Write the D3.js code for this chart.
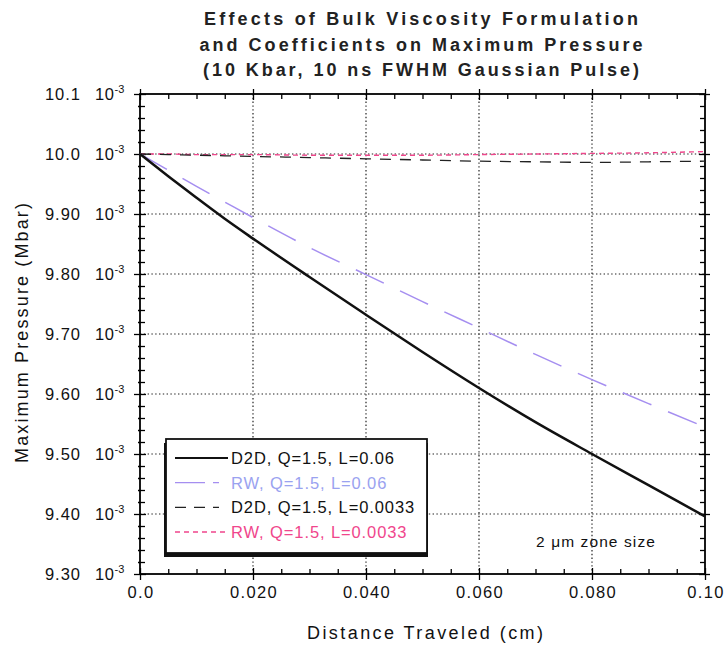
<!DOCTYPE html>
<html>
<head>
<meta charset="utf-8">
<script src="https://cdn.jsdelivr.net/npm/d3@7"></script>
<style>
  html, body { margin: 0; padding: 0; background: #fff; }
  svg { display: block; font-family: "Liberation Sans", Arial, Helvetica, sans-serif; }
</style>
</head>
<body>
<svg id="chart" width="727" height="647"></svg>
<script>
// Distance traveled (cm) at which the maximum pressure was sampled
const distance = [0, 0.005, 0.01, 0.015, 0.02, 0.03, 0.04, 0.05, 0.06, 0.07, 0.08, 0.09, 0.10];

// Maximum pressure in units of 10^-3 Mbar for each run
const d2dL006   = [10.000, 9.963, 9.927, 9.892, 9.859, 9.795, 9.732, 9.670, 9.610, 9.553, 9.500, 9.448, 9.396];
const rwL006    = [10.000, 9.973, 9.946, 9.920, 9.894, 9.844, 9.799, 9.754, 9.710, 9.666, 9.624, 9.584, 9.545];
const d2dL0033  = [10.000, 9.999, 9.998, 9.997, 9.996, 9.994, 9.992, 9.990, 9.988, 9.987, 9.986, 9.987, 9.988];
const rwL0033   = [10.000, 10.000, 9.999, 9.999, 9.999, 9.998, 9.998, 9.998, 9.999, 10.000, 10.001, 10.002, 10.004];

const seriesNames = ["D2D, Q=1.5, L=0.06", "RW, Q=1.5, L=0.06", "D2D, Q=1.5, L=0.0033", "RW, Q=1.5, L=0.0033"];

const xTickValues = [0, 0.02, 0.04, 0.06, 0.08, 0.10];
const xTickLabels = ["0.0", "0.020", "0.040", "0.060", "0.080", "0.10"];
const yTickValues = [10.1, 10.0, 9.9, 9.8, 9.7, 9.6, 9.5, 9.4, 9.3];
const yTickLabels = ["10.1", "10.0", "9.90", "9.80", "9.70", "9.60", "9.50", "9.40", "9.30"];

const titleLines = [
  "Effects of Bulk Viscosity Formulation",
  "and Coefficients on Maximum Pressure",
  "(10 Kbar, 10 ns FWHM Gaussian Pulse)"
];

const svg = d3.select("#chart");
const L = 140, R = 705, T = 94, B = 574;

const x = d3.scaleLinear().domain([0, 0.10]).range([L, R]);
const y = d3.scaleLinear().domain([9.3, 10.1]).range([B, T]);

const xMinor = d3.range(0, 0.1001, 0.005).filter(v => !xTickValues.some(t => Math.abs(t - v) < 1e-9));
const yMinor = d3.range(9.3, 10.1001, 0.02).filter(v => !yTickValues.some(t => Math.abs(t - v) < 1e-9));

// dotted grid at major ticks
const grid = svg.append("g").attr("stroke", "#222").attr("stroke-width", 1.2)
  .attr("stroke-dasharray", "1.4,2.4");
xTickValues.slice(1, -1).forEach(v => {
  grid.append("line").attr("x1", x(v)).attr("x2", x(v)).attr("y1", T).attr("y2", B);
});
yTickValues.slice(1, -1).forEach(v => {
  grid.append("line").attr("x1", L).attr("x2", R).attr("y1", y(v)).attr("y2", y(v));
});

// axes with ticks on all four sides
function styleAxis(g) {
  g.select(".domain").remove();
  g.selectAll(".tick line").attr("stroke", "#000").attr("stroke-width", 1.3);
  g.selectAll(".tick text").remove();
}
const fmtNone = () => "";
// bottom
svg.append("g").attr("transform", `translate(0,${B})`)
  .call(d3.axisBottom(x).tickValues(xTickValues).tickSize(6).tickFormat(fmtNone)).call(styleAxis);
svg.append("g").attr("transform", `translate(0,${B})`)
  .call(d3.axisBottom(x).tickValues(xTickValues).tickSize(-6).tickFormat(fmtNone)).call(styleAxis);
svg.append("g").attr("transform", `translate(0,${B})`)
  .call(d3.axisBottom(x).tickValues(xMinor).tickSize(-5).tickFormat(fmtNone)).call(styleAxis);
// top
svg.append("g").attr("transform", `translate(0,${T})`)
  .call(d3.axisTop(x).tickValues(xTickValues).tickSize(5).tickFormat(fmtNone)).call(styleAxis);
svg.append("g").attr("transform", `translate(0,${T})`)
  .call(d3.axisTop(x).tickValues(xTickValues).tickSize(-6).tickFormat(fmtNone)).call(styleAxis);
svg.append("g").attr("transform", `translate(0,${T})`)
  .call(d3.axisTop(x).tickValues(xMinor).tickSize(-5).tickFormat(fmtNone)).call(styleAxis);
// left
svg.append("g").attr("transform", `translate(${L},0)`)
  .call(d3.axisLeft(y).tickValues(yTickValues).tickSize(6).tickFormat(fmtNone)).call(styleAxis);
svg.append("g").attr("transform", `translate(${L},0)`)
  .call(d3.axisLeft(y).tickValues(yTickValues).tickSize(-6).tickFormat(fmtNone)).call(styleAxis);
svg.append("g").attr("transform", `translate(${L},0)`)
  .call(d3.axisLeft(y).tickValues(yMinor).tickSize(-5).tickFormat(fmtNone)).call(styleAxis);
svg.append("g").attr("transform", `translate(${L},0)`)
  .call(d3.axisLeft(y).tickValues(yMinor).tickSize(2).tickFormat(fmtNone)).call(styleAxis);
// right
svg.append("g").attr("transform", `translate(${R},0)`)
  .call(d3.axisRight(y).tickValues(yTickValues).tickSize(5).tickFormat(fmtNone)).call(styleAxis);
svg.append("g").attr("transform", `translate(${R},0)`)
  .call(d3.axisRight(y).tickValues(yTickValues).tickSize(-6).tickFormat(fmtNone)).call(styleAxis);
svg.append("g").attr("transform", `translate(${R},0)`)
  .call(d3.axisRight(y).tickValues(yMinor).tickSize(-5).tickFormat(fmtNone)).call(styleAxis);

// frame
svg.append("rect").attr("x", L).attr("y", T).attr("width", R - L).attr("height", B - T)
  .attr("fill", "none").attr("stroke", "#000").attr("stroke-width", 1.8);

// tick labels
const xLab = svg.append("g").attr("font-size", 16.5).attr("letter-spacing", 1.3).attr("fill", "#111");
xTickValues.forEach((v, i) => {
  xLab.append("text").attr("x", x(v) + 1).attr("y", B + 24).attr("text-anchor", "middle").text(xTickLabels[i]);
});
const yLab = svg.append("g").attr("font-size", 16.5).attr("fill", "#111");
yTickValues.forEach((v, i) => {
  yLab.append("text").attr("x", 81).attr("y", y(v) + 6).attr("text-anchor", "end")
    .attr("letter-spacing", 1.0).text(yTickLabels[i]);
  const t = yLab.append("text").attr("x", 95).attr("y", y(v) + 6);
  t.append("tspan").attr("letter-spacing", 0.6).text("10");
  t.append("tspan").attr("font-size", 11).attr("dy", -7).text("-3");
});

// series lines
const line = d3.line().x((d, i) => x(distance[i])).y(d => y(d)).curve(d3.curveMonotoneX);
const styles = [
  { data: d2dL006,  color: "#111",    width: 2.5, dash: null,   text: "#111" },
  { data: rwL006,   color: "#a58ef0", width: 1.5, dash: "31,18", text: "#9aa2f0" },
  { data: d2dL0033, color: "#222",    width: 1.3, dash: "11,9", text: "#111" },
  { data: rwL0033,  color: "#f0468c", width: 1.4, dash: "5,4",  text: "#f0468c" }
];
const plot = svg.append("g");
[3, 2, 1, 0].forEach(k => {
  const s = styles[k];
  plot.append("path").attr("d", line(s.data)).attr("fill", "none")
    .attr("stroke", s.color).attr("stroke-width", s.width)
    .attr("stroke-dasharray", s.dash);
});

// legend box with drop shadow
const lg = { x0: 166, y0: 439, x1: 427, y1: 553 };
svg.append("rect").attr("x", lg.x0 - 2).attr("y", lg.y0 + 4).attr("width", lg.x1 - lg.x0 + 3)
  .attr("height", lg.y1 - lg.y0).attr("fill", "#111");
svg.append("rect").attr("x", lg.x0).attr("y", lg.y0).attr("width", lg.x1 - lg.x0)
  .attr("height", lg.y1 - lg.y0).attr("fill", "#fff").attr("stroke", "#111").attr("stroke-width", 1.8);
const legendY = d3.scalePoint().domain(seriesNames).range([458, 532]);
seriesNames.forEach((name, k) => {
  const s = styles[k];
  const yy = legendY(name);
  svg.append("line").attr("x1", 175).attr("x2", 228).attr("y1", yy).attr("y2", yy)
    .attr("stroke", s.color).attr("stroke-width", k === 0 ? 2.2 : 1.4)
    .attr("stroke-dasharray", k === 1 ? "30,8,6,20" : k === 2 ? "11,8,11,8,6,20" : s.dash);
  svg.append("text").attr("x", 231).attr("y", yy + 6).attr("font-size", 16.5)
    .attr("letter-spacing", 0.9).attr("fill", s.text).text(name);
});

// annotation
svg.append("text").attr("x", 536).attr("y", 547).attr("font-size", 15.5).attr("letter-spacing", 1.1)
  .attr("fill", "#111").text("2 μm zone size");

// title
titleLines.forEach((t, i) => {
  svg.append("text").attr("x", 421).attr("y", [25, 51, 76][i]).attr("text-anchor", "middle")
    .attr("font-size", 18).attr("font-weight", "bold").attr("fill", "#222")
    .attr("textLength", [434, 443, 436][i]).attr("lengthAdjust", "spacing").text(t);
});

// axis titles
svg.append("text").attr("x", 425).attr("y", 639).attr("text-anchor", "middle")
  .attr("font-size", 18).attr("fill", "#111").attr("textLength", 236).attr("lengthAdjust", "spacing")
  .text("Distance Traveled (cm)");
svg.append("text").attr("transform", "translate(28,333) rotate(-90)").attr("text-anchor", "middle")
  .attr("font-size", 18).attr("fill", "#111").attr("textLength", 260).attr("lengthAdjust", "spacing")
  .text("Maximum Pressure (Mbar)");
</script>
</body>
</html>
